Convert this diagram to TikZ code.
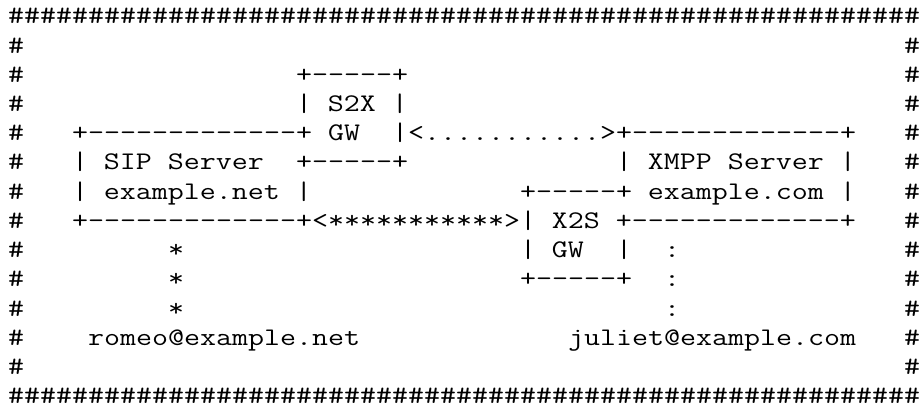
\documentclass[tikz,border=0pt]{standalone}
\usepackage{fontspec}
\usepackage{tikz}

\newlength\artwidth
\settowidth\artwidth{\ttfamily\fontsize{19}{22}\selectfont M}
\pgfmathsetmacro\artstretch{12pt/\artwidth}

\begin{document}
\begin{tikzpicture}[
    x = 12pt, y = -21.9pt,
    art/.style = {anchor=base west, inner sep=0pt, outer sep=0pt,
        xscale=\artstretch, transform shape,
        font=\ttfamily\fontsize{19}{22}\selectfont}
  ]
  \fill[white] (-0.5,-0.822) rectangle (57,13.288);
  \useasboundingbox (-0.5,-0.822) rectangle (57,13.288);

  % frame of hashes
  \foreach \c in {0,...,56} {
    \node[art] (top\c) at (\c,0) {\#};
    \node[art] (bottom\c) at (\c,13) {\#};
  }
  \foreach \r in {1,...,12} {
    \node[art] (left\r) at (0,\r) {\#};
    \node[art] (right\r) at (56,\r) {\#};
  }

  \node[art] (s2xtop)   at (18,2) {+-----+};
  \node[art] (s2xname)  at (18,3) {| S2X |};
  \node[art] (siptop)   at (4,4)  {+-------------+};
  \node[art] (s2xgw)    at (20,4) {GW};
  \node[art] (dotlink)  at (24,4) {|<...........>+-------------+};
  \node[art] (sipname)  at (4,5)  {| SIP Server};
  \node[art] (s2xbot)   at (18,5) {+-----+};
  \node[art] (xmppname) at (38,5) {| XMPP Server |};
  \node[art] (sipdom)   at (4,6)  {| example.net |};
  \node[art] (x2stop)   at (32,6) {+-----+ example.com |};
  \node[art] (starlink) at (4,7)  {+-------------+<***********>| X2S +-------------+};
  \node[art] (x2sgw)    at (32,8) {| GW};
  \node[art] (x2sside)  at (38,8) {|};
  \node[art] (x2sbot)   at (32,9) {+-----+};

  \foreach \r in {8,9,10} {
    \node[art] (star\r)  at (10,\r) {*};
    \node[art] (colon\r) at (41,\r) {:};
  }

  \node[art] (romeo)  at (5,11)  {romeo@example.net};
  \node[art] (juliet) at (35,11) {juliet@example.com};
\end{tikzpicture}
\end{document}
